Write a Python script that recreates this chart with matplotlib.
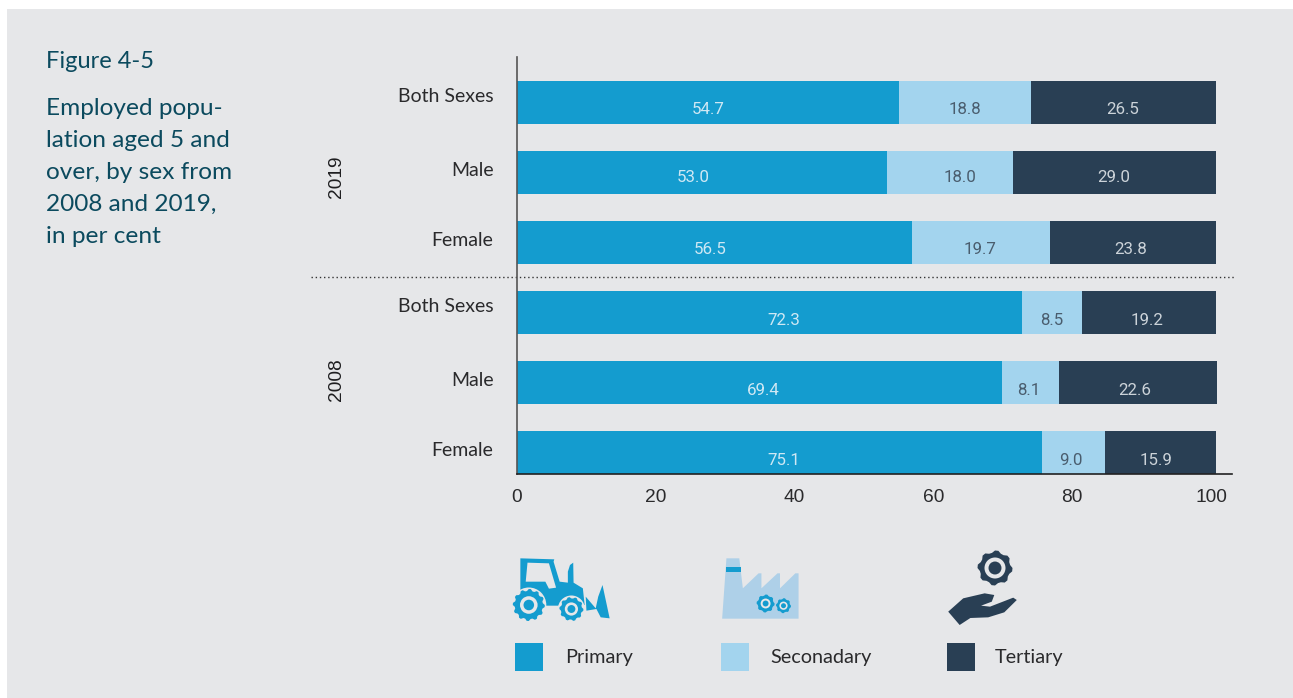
import numpy as np
import matplotlib
matplotlib.use("Agg")
import matplotlib.pyplot as plt
from matplotlib.patches import Polygon, Rectangle, Circle
from matplotlib.transforms import ScaledTranslation

plt.rcParams['font.family'] = ['Lato', 'DejaVu Sans']

W, H = 1293, 698
bg = "#e6e7e9"
c_primary = "#149ccf"
c_secondary = "#a3d4ee"
c_tertiary = "#293f54"
c_title = "#0b4a5e"
c_text = "#2a2a2c"

# data, top to bottom
groups = ["Both Sexes", "Male", "Female", "Both Sexes", "Male", "Female"]
primary = [54.7, 53.0, 56.5, 72.3, 69.4, 75.1]
secondary = [18.8, 18.0, 19.7, 8.5, 8.1, 9.0]
tertiary = [26.5, 29.0, 23.8, 19.2, 22.6, 15.9]
years = ["2019", "2008"]
x_ticks = [0, 20, 40, 60, 80, 100]
legend_names = ["Primary", "Seconadary", "Tertiary"]

# the source labels sit off centre, these are pixel nudges
nudge_row = [7.5, 5.5, 7.5, 8.5, 8.5, 8.5]
nudge_primary = [0, -9, -4, 14, 4, 5]
nudge_secondary = [0, 10, -1, 0, -2, -2]
nudge_tertiary = [-1, -1, -2, -2, -3, -4]
nudge_group = [7, 3.5, 3.5, 7, 3.5, 3.5]

fig = plt.figure(figsize=(W / 100, H / 100), dpi=100, facecolor="white")


def px(dx, dy):
    return ScaledTranslation(dx / 100, dy / 100, fig.dpi_scale_trans)


# overlay in pixel coordinates for the panel, icons and side text
pg = fig.add_axes([0, 0, 1, 1])
pg.set_xlim(0, W)
pg.set_ylim(H, 0)
pg.axis("off")
pg.add_patch(Rectangle((7, 9), W - 7, H - 9, color=bg, lw=0))

# bar axes, 0 at x=516.5 and 100 at x=1216
left, right, top, bottom = 516.5, 1232, 57, 473.5
ax = fig.add_axes([left / W, 1 - bottom / H, (right - left) / W, (bottom - top) / H])
ax.patch.set_alpha(0)
ax.set_xlim(0, (right - left) / 6.995)
ax.set_ylim(5 + 21.5 / 70, -45.5 / 70)
y = np.arange(6)
h = 43 / 70
p = np.array(primary)
s = np.array(secondary)
t = np.array(tertiary)
b1 = ax.barh(y, p, height=h, color=c_primary)
b2 = ax.barh(y, s, left=p, height=h, color=c_secondary)
b3 = ax.barh(y, t, left=p + s, height=h, color=c_tertiary)

for bars, vals, col, nudge in [(b1, primary, "#cfe8f4", nudge_primary),
                               (b2, secondary, "#4a5d6e", nudge_secondary),
                               (b3, tertiary, "#ccd3d9", nudge_tertiary)]:
    for i, (r, v) in enumerate(zip(bars, vals)):
        ax.annotate("%.1f" % v, (r.get_x() + r.get_width() / 2, r.get_y() + r.get_height() / 2),
                    xytext=(nudge[i] * 0.72, -nudge_row[i] * 0.72), textcoords="offset points",
                    ha="center", va="center", fontsize=12.2, color=col, family="Roboto")

for side in ["top", "right"]:
    ax.spines[side].set_visible(False)
ax.spines["left"].set_color("#555555")
ax.spines["left"].set_linewidth(1.2)
ax.spines["bottom"].set_color("#222222")
ax.spines["bottom"].set_linewidth(1.2)
ax.set_xticks(x_ticks)
ax.set_yticks(y)
ax.set_yticklabels(groups)
ax.tick_params(axis="x", length=0, pad=11.5, labelsize=13.8, labelcolor=c_text, labelfontfamily="Liberation Sans")
ax.tick_params(axis="y", length=0, pad=16.5, labelsize=14, labelcolor=c_text)
for lab, n in zip(ax.get_yticklabels(), nudge_group):
    lab.set_transform(lab.get_transform() + px(0, n))
# printed tick labels drift left of the true scale
for lab, v in zip(ax.get_xticklabels(), x_ticks):
    lab.set_transform(lab.get_transform() + px(-0.05 * v, 0))

# divider and year labels
pg.plot([311, 1234], [277, 277], color="#333333", lw=1, ls=(0, (1, 2)), zorder=5)
for yr, yy in zip(years, [177, 380]):
    fig.text(336 / W, 1 - yy / H, yr, rotation=90, ha="center", va="center",
             fontsize=13.8, color="#1e1e20", family="Liberation Sans")

# side text
pg.text(46, 61, "Figure 4-5", fontsize=17, color=c_title, va="center")
side_lines = ["Employed popu-", "lation aged 5 and", "over, by sex from", "2008 and 2019,", "in per cent"]
for i, line in enumerate(side_lines):
    pg.text(46, 108.5 + i * 32, line, fontsize=17.6, color=c_title, va="center")


def shape(pts, color):
    xy = [(490 + a / 2.8, 540 + b / 3) for a, b in pts]
    pg.add_patch(Polygon(xy, closed=True, color=color, lw=0))


def gear(cx, cy, r, color, back=None, hole=0.33, ring=0.55, teeth=10):
    if back:
        pg.add_patch(Circle((cx, cy), r + 1.5, color=back, lw=0))
    ang = np.linspace(0, 2 * np.pi, teeth * 4, endpoint=False)
    rad = np.where(np.arange(teeth * 4) % 4 < 2, r, r * 0.88)
    pg.add_patch(Polygon(np.c_[cx + rad * np.cos(ang), cy + rad * np.sin(ang)], closed=True, color=color, lw=0))
    pg.add_patch(Circle((cx, cy), r * ring, color=bg, lw=0))
    pg.add_patch(Circle((cx, cy), r * hole, color=color, lw=0))


# tractor
shape([(85, 55), (180, 58), (178, 65), (195, 125), (218, 128), (218, 95), (224, 75), (233, 68), (234, 128),
       (260, 145), (265, 195), (190, 197), (155, 197), (85, 170)], c_primary)
shape([(105, 68), (165, 70), (185, 143), (165, 146), (155, 125), (100, 125)], bg)
gear(528.8, 605, 16, c_primary, back=bg, teeth=12)
gear(571.4, 609, 12, c_primary, back=bg)
shape([(315, 135), (335, 235), (310, 232), (298, 207), (270, 212), (268, 170), (296, 205), (303, 170)], c_primary)

# factory
shape([(662, 55), (698, 55), (708, 145), (752, 100), (760, 100), (760, 145), (805, 100), (812, 100),
       (812, 145), (855, 100), (864, 100), (864, 236), (650, 236)], "#aed0e8")
shape([(660, 80), (703, 80), (703, 95), (660, 95)], c_primary)
gear(765.6, 603.5, 9, c_primary, teeth=8)
gear(783.5, 605.7, 7.5, c_primary, teeth=8)

# hand and gear
gear(995, 568, 17.5, c_tertiary, hole=0.37, ring=0.6, teeth=8)
shape([(1283, 215), (1325, 175), (1385, 160), (1412, 165), (1405, 185), (1375, 197), (1400, 200),
       (1465, 173), (1475, 180), (1440, 217), (1395, 232), (1345, 234), (1315, 255)], c_tertiary)

# legend
legend_colors = [c_primary, c_secondary, c_tertiary]
legend_box_x = [515, 721, 947]
legend_text_x = [565, 770, 995]
for name, col, bx, tx in zip(legend_names, legend_colors, legend_box_x, legend_text_x):
    pg.add_patch(Rectangle((bx, 642.5), 28, 28, color=col, lw=0))
    pg.text(tx, 657, name, fontsize=14.3, color=c_text, va="center")

fig.savefig("out.png", dpi=100, facecolor="white")
